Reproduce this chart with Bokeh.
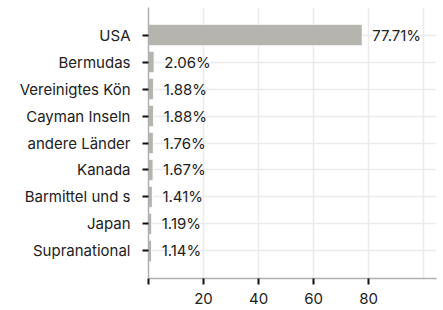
from bokeh.plotting import figure
from bokeh.models import FactorRange, Range1d, FixedTicker, ColumnDataSource
from bokeh.core.properties import value
from bokeh.embed import file_html
from bokeh.resources import INLINE

countries = ["USA", "Bermudas", "Vereinigtes Kön", "Cayman Inseln", "andere Länder",
             "Kanada", "Barmittel und s", "Japan", "Supranational"]
shares = [77.71, 2.06, 1.88, 1.88, 1.76, 1.67, 1.41, 1.19, 1.14]
labels = ["77.71%", "2.06%", "1.88%", "1.88%", "1.76%", "1.67%", "1.41%", "1.19%", "1.14%"]
x_ticks = [0, 20, 40, 60, 80]
x_grid = [0, 20, 40, 60, 80, 100]

src = ColumnDataSource(dict(c=countries, v=shares, t=labels))

p = figure(width=438, height=306, output_backend="svg", toolbar_location=None,
           y_range=FactorRange(factors=list(reversed(countries)), range_padding=0.52,
                               range_padding_units="absolute"),
           x_range=Range1d(0, 104.7),
           min_border_left=148, min_border_right=2, min_border_top=7, min_border_bottom=20)
p.outline_line_color = None
p.background_fill_color = "white"

p.hbar(y="c", right="v", left=0, height=0.8, source=src,
       fill_color="#b5b4af", line_color="white", line_width=1)
p.text(x="v", y="c", text="t", source=src, x_offset=10,
       text_baseline="middle", text_align="left", text_font=value("Inter"),
       text_font_size="15px", text_color="#222222")

p.xaxis.ticker = FixedTicker(ticks=x_ticks)
p.xaxis.major_label_overrides = {0: ""}
p.xgrid.ticker = FixedTicker(ticks=x_grid)
p.xaxis.minor_tick_line_color = None
for ax in (p.xaxis, p.yaxis):
    ax.axis_line_color = "#b0b0b0"
    ax.axis_line_width = 1.5
    ax.major_tick_line_color = "#111111"
    ax.major_tick_line_width = 2
    ax.major_tick_out = 6
    ax.major_tick_in = 0
    ax.major_label_text_font = "Inter"
    ax.major_label_text_font_size = "15px"
    ax.major_label_text_color = "#222222"
p.yaxis.major_label_standoff = 12
p.xaxis.major_label_standoff = 8

p.xgrid.grid_line_color = "#ebebeb"
p.ygrid.grid_line_color = "#ebebeb"
p.xgrid.grid_line_width = 1.5
p.ygrid.grid_line_width = 1.5

open("out.html", "w").write(file_html(p, INLINE))
